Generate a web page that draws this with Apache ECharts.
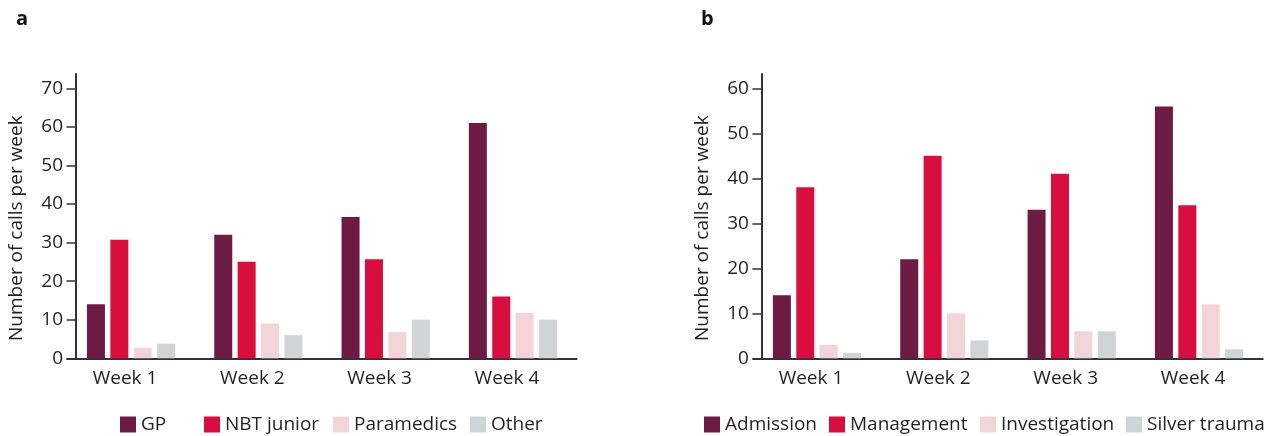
<!DOCTYPE html>
<html>
<head>
<meta charset="utf-8">
<script src="https://cdn.jsdelivr.net/npm/echarts@6/dist/echarts.min.js"></script>
<style>
html,body{margin:0;padding:0;background:#fff;}
#chart{width:1270px;height:436px;}
</style>
</head>
<body>
<div id="chart"></div>
<script>
// ---- data ----
const weeks = ['Week 1', 'Week 2', 'Week 3', 'Week 4'];
// panel a
const seriesNamesA = ['GP', 'NBT junior', 'Paramedics', 'Other'];
const gp = [14, 32, 36.6, 61];
const nbtJunior = [30.7, 25, 25.7, 16];
const paramedics = [2.7, 9, 6.8, 11.8];
const otherA = [3.8, 6, 10, 10];
const ticksA = [0, 10, 20, 30, 40, 50, 60, 70];
// panel b
const seriesNamesB = ['Admission', 'Management', 'Investigation', 'Silver trauma'];
const admission = [14, 22, 33, 56];
const management = [38, 45, 41, 34];
const investigation = [3, 10, 6, 12];
const silverTrauma = [1.2, 4, 6, 2];
const ticksB = [0, 10, 20, 30, 40, 50, 60];

const yTitle = 'Number of calls per week';
const colors = ['#6d1b45', '#d80e3e', '#f3d4d8', '#d1d4d5'];

// ---- chart ----
const FONT = '"Open Sans", "Noto Sans", sans-serif';
const TXT = '#231f20';
const AX = '#333333';

function xAxisFor(gridIndex) {
  return {
    type: 'category', gridIndex: gridIndex, data: weeks,
    axisLine: { lineStyle: { color: AX, width: 2 } },
    axisTick: { show: false },
    axisLabel: { color: TXT, fontSize: 19, fontFamily: FONT, margin: 11, padding: [0, 12, 0, 0] },
    splitLine: { show: false }
  };
}
function yAxisFor(gridIndex, max, ticks) {
  return {
    type: 'value', gridIndex: gridIndex, min: 0, max: max, interval: 10,
    offset: -8.6,
    name: yTitle, nameLocation: 'middle', nameGap: 50, nameRotate: 90,
    nameTextStyle: { color: TXT, fontSize: 19, fontFamily: FONT, padding: [0, 24, 0, 0] },
    axisLine: { show: true, lineStyle: { color: AX, width: 2 } },
    axisTick: { show: true, length: 9.5, lineStyle: { color: AX, width: 1.5 }, customValues: ticks },
    axisLabel: { color: TXT, fontSize: 19, fontFamily: FONT, margin: 13, customValues: ticks },
    splitLine: { show: false }
  };
}
function barSeries(name, data, idx, colorIdx) {
  return {
    type: 'bar', name: name, data: data, xAxisIndex: idx, yAxisIndex: idx,
    barWidth: 18, barGap: '30%',
    itemStyle: { color: colors[colorIdx] },
    emphasis: { disabled: true }
  };
}
function legendItem(name, left) {
  return {
    data: [name], left: left, top: 415, padding: 0,
    itemWidth: 16, itemHeight: 16, icon: 'rect', selectedMode: false,
    textStyle: { color: TXT, fontSize: 19, fontFamily: FONT }
  };
}

const legendLeftA = [120, 204, 333, 470];
const legendLeftB = [704, 829, 980, 1126];

const option = {
  animation: false,
  backgroundColor: '#ffffff',
  title: [
    { text: 'a', left: 11, top: 4, textStyle: { fontSize: 20, fontWeight: 'bold', color: '#111', fontFamily: FONT } },
    { text: 'b', left: 696, top: 4, textStyle: { fontSize: 20, fontWeight: 'bold', color: '#111', fontFamily: FONT } }
  ],
  grid: [
    { left: 67.4, top: 74, width: 509.2, height: 284.3 },
    { left: 753.3, top: 74, width: 509.4, height: 284.3 }
  ],
  xAxis: [xAxisFor(0), xAxisFor(1)],
  yAxis: [yAxisFor(0, 73.7, ticksA), yAxisFor(1, 63.2, ticksB)],
  legend: seriesNamesA.map((n, i) => legendItem(n, legendLeftA[i]))
    .concat(seriesNamesB.map((n, i) => legendItem(n, legendLeftB[i]))),
  series: [
    barSeries(seriesNamesA[0], gp, 0, 0),
    barSeries(seriesNamesA[1], nbtJunior, 0, 1),
    barSeries(seriesNamesA[2], paramedics, 0, 2),
    barSeries(seriesNamesA[3], otherA, 0, 3),
    barSeries(seriesNamesB[0], admission, 1, 0),
    barSeries(seriesNamesB[1], management, 1, 1),
    barSeries(seriesNamesB[2], investigation, 1, 2),
    barSeries(seriesNamesB[3], silverTrauma, 1, 3)
  ]
};

const chart = echarts.init(document.getElementById('chart'), null, { renderer: 'canvas' });
chart.setOption(option);
</script>
</body>
</html>
